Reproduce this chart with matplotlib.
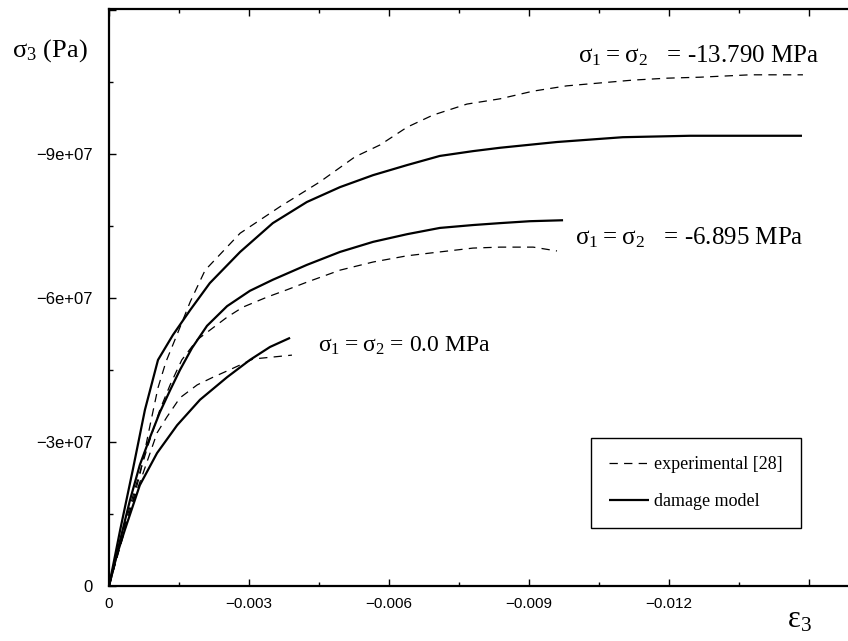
import matplotlib
matplotlib.use('Agg')
import matplotlib.pyplot as plt
from matplotlib.ticker import FixedLocator, FixedFormatter, MultipleLocator

plt.rcParams['font.family'] = ['Liberation Serif', 'DejaVu Serif']
plt.rcParams['lines.scale_dashes'] = False
plt.rcParams['axes.unicode_minus'] = True

# ---- data: strain eps3 and stress sigma3 (Pa) ----
# confinement sigma1 = sigma2 = -13.790 MPa
model_a_eps = [0, -0.00024, -0.00051, -0.00077, -0.00105, -0.00137, -0.00174, -0.00216,
               -0.00281, -0.00351, -0.00424, -0.00495, -0.00566, -0.00639, -0.00709,
               -0.00780, -0.00838, -0.00960, -0.01101, -0.01245, -0.01485]
model_a_sig = [0, -1.17e7, -2.42e7, -3.67e7, -4.71e7, -5.23e7, -5.75e7, -6.31e7,
               -6.96e7, -7.56e7, -8.00e7, -8.31e7, -8.56e7, -8.77e7, -8.96e7,
               -9.06e7, -9.13e7, -9.25e7, -9.35e7, -9.38e7, -9.38e7]
exp_a_eps = [0, -0.00034, -0.00066, -0.00088, -0.00105, -0.00122, -0.00148, -0.00174,
             -0.00206, -0.00281, -0.00366, -0.00452, -0.00527, -0.00581, -0.00639,
             -0.00694, -0.00767, -0.00838, -0.00909, -0.00981, -0.01052, -0.01123,
             -0.01196, -0.01266, -0.01374, -0.01487]
exp_a_sig = [0, -1.17e7, -2.31e7, -3.35e7, -4.13e7, -4.67e7, -5.29e7, -5.92e7,
             -6.58e7, -7.35e7, -7.90e7, -8.42e7, -8.94e7, -9.19e7, -9.56e7,
             -9.81e7, -10.04e7, -10.15e7, -10.31e7, -10.42e7, -10.48e7, -10.54e7,
             -10.58e7, -10.60e7, -10.65e7, -10.65e7]

# confinement sigma1 = sigma2 = -6.895 MPa
model_b_eps = [0, -0.00024, -0.00045, -0.00066, -0.00088, -0.00109, -0.00131, -0.00152,
               -0.00178, -0.00210, -0.00253, -0.00302, -0.00351, -0.00424, -0.00495,
               -0.00566, -0.00639, -0.00709, -0.00780, -0.00838, -0.00902, -0.00973]
model_b_sig = [0, -0.96e7, -1.79e7, -2.52e7, -3.10e7, -3.62e7, -4.08e7, -4.50e7,
               -4.96e7, -5.42e7, -5.83e7, -6.15e7, -6.38e7, -6.69e7, -6.96e7,
               -7.17e7, -7.33e7, -7.46e7, -7.52e7, -7.56e7, -7.60e7, -7.62e7]
exp_b_eps = [0, -0.00028, -0.00056, -0.00084, -0.00109, -0.00131, -0.00156, -0.00189,
             -0.00223, -0.00253, -0.00287, -0.00339, -0.00381, -0.00424, -0.00495,
             -0.00566, -0.00639, -0.00709, -0.00780, -0.00838, -0.00909, -0.00960]
exp_b_sig = [0, -1.06e7, -2.04e7, -2.94e7, -3.67e7, -4.19e7, -4.71e7, -5.13e7,
             -5.38e7, -5.60e7, -5.81e7, -6.02e7, -6.17e7, -6.33e7, -6.58e7,
             -6.75e7, -6.88e7, -6.96e7, -7.04e7, -7.06e7, -7.06e7, -6.98e7]

# confinement sigma1 = sigma2 = 0.0 MPa
model_c_eps = [0, -0.00017, -0.00034, -0.00066, -0.00103, -0.00146, -0.00195, -0.00253,
               -0.00302, -0.00345, -0.00388]
model_c_sig = [0, -0.65e7, -1.17e7, -2.10e7, -2.77e7, -3.35e7, -3.88e7, -4.35e7,
               -4.71e7, -4.98e7, -5.17e7]
exp_c_eps = [0, -0.00024, -0.00049, -0.00073, -0.00088, -0.00103, -0.00124, -0.00152,
             -0.00189, -0.00223, -0.00253, -0.00309, -0.00351, -0.00392]
exp_c_sig = [0, -0.85e7, -1.69e7, -2.35e7, -2.77e7, -3.19e7, -3.52e7, -3.92e7,
             -4.19e7, -4.35e7, -4.48e7, -4.73e7, -4.77e7, -4.81e7]

curve_labels = [r'$\mathregular{σ_1 = σ_2}$' + '   = -13.790 MPa',
                r'$\mathregular{σ_1 = σ_2}$' + '   = -6.895 MPa',
                r'$\mathregular{σ_1 = σ_2}$ = 0.0 MPa']
legend_labels = ['experimental [28]', 'damage model']

x_ticks = [0, -0.003, -0.006, -0.009, -0.012, -0.015]
x_tick_labels = ['0', '\u22120.003', '\u22120.006', '\u22120.009', '\u22120.012', '']
y_ticks = [0, -3e7, -6e7, -9e7, -12e7]
y_tick_labels = ['0', '\u22123e+07', '\u22126e+07', '\u22129e+07', '']

# ---- figure ----
fig = plt.figure(figsize=(8.48, 6.41), dpi=100)
ax = fig.add_axes([109 / 848, 55 / 641, 1 - 109 / 848, 577 / 641])

solid_kw = dict(color='black', lw=1.6, solid_capstyle='butt')
dash_kw = dict(color='black', lw=0.9, dashes=(6, 4.5))

ax.plot(exp_a_eps, exp_a_sig, label=legend_labels[0], **dash_kw)
ax.plot(model_a_eps, model_a_sig, label=legend_labels[1], **solid_kw)
ax.plot(exp_b_eps, exp_b_sig, **dash_kw)
ax.plot(model_b_eps, model_b_sig, **solid_kw)
ax.plot(exp_c_eps, exp_c_sig, **dash_kw)
ax.plot(model_c_eps, model_c_sig, **solid_kw)

ax.set_xlim(0, -0.015836)
ax.set_ylim(0, -1.2021e8)

ax.xaxis.set_major_locator(FixedLocator(x_ticks))
ax.xaxis.set_major_formatter(FixedFormatter(x_tick_labels))
ax.xaxis.set_minor_locator(MultipleLocator(0.0015))
ax.yaxis.set_major_locator(FixedLocator(y_ticks))
ax.yaxis.set_major_formatter(FixedFormatter(y_tick_labels))
ax.yaxis.set_minor_locator(MultipleLocator(1.5e7))

ax.tick_params(which='both', direction='in', top=True, right=False, width=1.0,
               labelfontfamily='Liberation Sans')
ax.tick_params(axis='x', labelsize=11, pad=8)
ax.tick_params(axis='y', labelsize=12, pad=12)
ax.tick_params(which='major', length=5)
ax.tick_params(which='minor', length=3)
for s in ('left', 'bottom', 'top'):
    ax.spines[s].set_linewidth(1.6)
ax.spines['right'].set_visible(False)

# curve annotations
ax.text(-0.01005, -1.0917e8, curve_labels[0], fontsize=18, ha='left', va='baseline')
ax.text(-0.00999, -7.125e7, curve_labels[1], fontsize=18, ha='left', va='baseline')
ax.text(-0.00448, -4.875e7, curve_labels[2], fontsize=17, ha='left', va='baseline')

# axis labels
fig.text(12 / 848, 1 - 57 / 641, r'$\mathregular{σ_3}$ (Pa)', fontsize=19,
         ha='left', va='baseline')
fig.text(787 / 848, 1 - 627 / 641, r'$\mathregular{ε_3}$', fontsize=22,
         ha='left', va='baseline')

leg = ax.legend(loc='upper left', bbox_to_anchor=(591 / 848, 1 - 438 / 641),
                bbox_transform=fig.transFigure, fontsize=13, frameon=True,
                fancybox=False, edgecolor='black', framealpha=1,
                handlelength=2.2, handletextpad=0.3, borderpad=1.0,
                labelspacing=1.1, borderaxespad=0)
leg.get_frame().set_linewidth(1.0)

fig.savefig('out.png', dpi=100)
